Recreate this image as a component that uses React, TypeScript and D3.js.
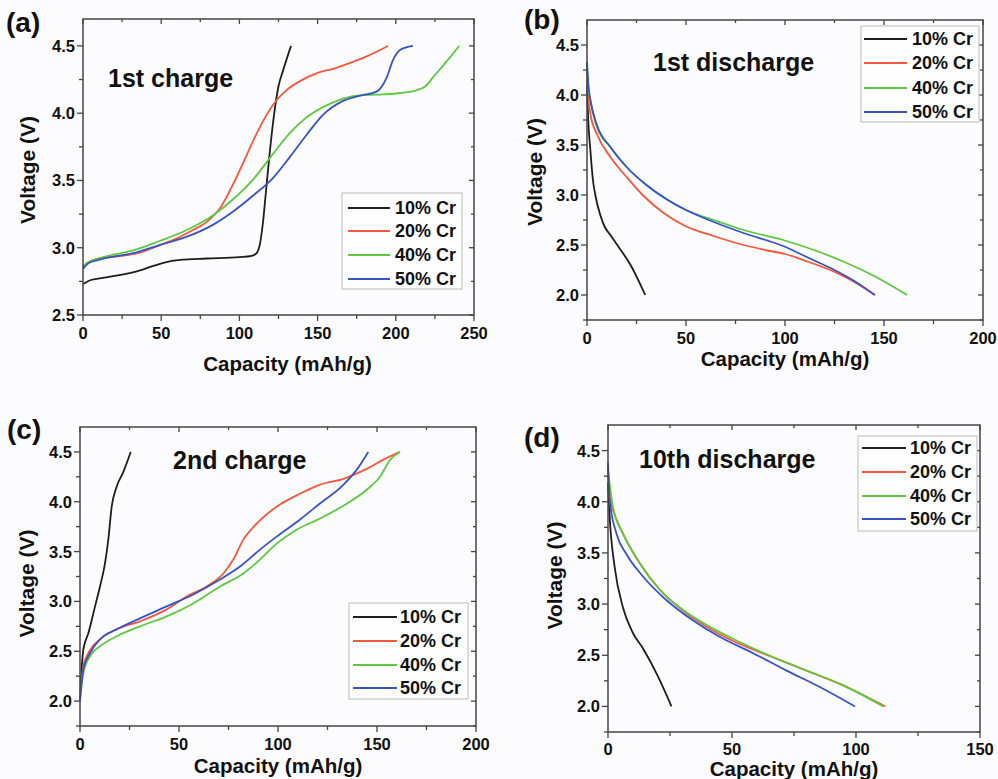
import React from "react";
import * as d3 from "d3";

type Pt = [number, number];

// series names and colours
const seriesNames = ["10% Cr", "20% Cr", "40% Cr", "50% Cr"];
const seriesColors = ["#1e1e1e", "#f4583a", "#5ec93e", "#3852c8"];

// (a) 1st charge: [capacity mAh/g, voltage V]
const charge1_10: Pt[] = [[0, 2.73], [5, 2.76], [15, 2.78], [25, 2.8], [36, 2.83], [45, 2.865], [52, 2.89], [62, 2.91], [79, 2.92], [100, 2.93], [108, 2.94], [111, 2.96], [113, 3.02], [115, 3.18], [117, 3.42], [119, 3.66], [121, 3.88], [123, 4.06], [125, 4.2], [128, 4.32], [133, 4.5]];
const charge1_20: Pt[] = [[0, 2.85], [3, 2.89], [10, 2.92], [25, 2.94], [35, 2.96], [49, 3.02], [60, 3.07], [70, 3.13], [79, 3.19], [88, 3.3], [95, 3.45], [102, 3.62], [109, 3.8], [117, 3.98], [124, 4.1], [130, 4.17], [139, 4.24], [150, 4.3], [160, 4.33], [170, 4.37], [181, 4.42], [195, 4.5]];
const charge1_40: Pt[] = [[0, 2.86], [3, 2.89], [10, 2.92], [20, 2.95], [32, 2.98], [49, 3.05], [66, 3.13], [83, 3.24], [96, 3.36], [109, 3.51], [121, 3.69], [132, 3.85], [143, 3.97], [156, 4.06], [170, 4.12], [181, 4.135], [192, 4.14], [203, 4.15], [213, 4.17], [219, 4.2], [224, 4.27], [230, 4.35], [235, 4.42], [240.6, 4.5]];
const charge1_50: Pt[] = [[0, 2.84], [3, 2.88], [10, 2.91], [32, 2.96], [49, 3.02], [66, 3.08], [83, 3.17], [96, 3.27], [109, 3.39], [121.6, 3.52], [132, 3.67], [143, 3.84], [153.6, 3.99], [166, 4.09], [177, 4.13], [187.7, 4.16], [194, 4.26], [198.4, 4.4], [202.7, 4.47], [211, 4.5]];

// (b) 1st discharge
const discharge1_10: Pt[] = [[0, 4.1], [0.5, 3.8], [1.7, 3.45], [3, 3.15], [4.2, 3.0], [6.7, 2.8], [9, 2.68], [11.8, 2.6], [16, 2.48], [22, 2.3], [29.4, 2.0]];
const discharge1_20: Pt[] = [[0, 4.15], [0.8, 3.95], [1.7, 3.81], [5, 3.61], [11.8, 3.38], [20, 3.18], [28.6, 2.99], [38.7, 2.82], [49.6, 2.69], [63.9, 2.59], [79, 2.5], [90, 2.45], [100, 2.41], [112, 2.33], [124, 2.24], [135, 2.13], [145.4, 2.0]];
const discharge1_40: Pt[] = [[0, 4.25], [0.8, 4.05], [1.7, 3.95], [5, 3.68], [11.8, 3.48], [20, 3.28], [30, 3.1], [40, 2.96], [50, 2.85], [64, 2.75], [79, 2.65], [99, 2.55], [116, 2.44], [130, 2.33], [145, 2.19], [161.7, 2.0]];
const discharge1_50: Pt[] = [[0, 4.33], [0.8, 4.08], [1.7, 3.95], [5, 3.7], [11.8, 3.48], [20, 3.28], [30, 3.1], [40, 2.96], [50, 2.85], [64, 2.73], [79, 2.62], [99, 2.49], [112, 2.37], [124, 2.26], [135, 2.14], [145.4, 2.0]];

// (c) 2nd charge
const charge2_10: Pt[] = [[0.3, 2.15], [1.7, 2.52], [4.2, 2.68], [7.6, 2.95], [10.1, 3.15], [12.6, 3.38], [14.3, 3.62], [16, 3.95], [18.5, 4.15], [21.9, 4.3], [25.6, 4.5]];
const charge2_20: Pt[] = [[0, 2.08], [1.7, 2.35], [4.2, 2.48], [10.1, 2.62], [18.5, 2.72], [30.3, 2.8], [43.8, 2.92], [53.9, 3.05], [64, 3.15], [72.4, 3.28], [77.4, 3.42], [82.5, 3.62], [89.2, 3.78], [99.3, 3.95], [111, 4.08], [121, 4.17], [133, 4.23], [144.8, 4.33], [153, 4.42], [161.6, 4.5]];
const charge2_40: Pt[] = [[0, 2.02], [1.7, 2.28], [5, 2.45], [10.1, 2.55], [18.5, 2.65], [30.3, 2.75], [43.8, 2.85], [57.2, 2.98], [70.7, 3.15], [82.5, 3.28], [90.9, 3.42], [99.3, 3.58], [109.4, 3.72], [121, 3.83], [134.7, 3.98], [144.8, 4.12], [151.5, 4.25], [156.6, 4.42], [161.6, 4.5]];
const charge2_50: Pt[] = [[0, 2.0], [1.7, 2.32], [5, 2.48], [10.1, 2.62], [18.5, 2.72], [30.3, 2.83], [43.8, 2.95], [57.2, 3.07], [70.7, 3.22], [80.8, 3.35], [90.9, 3.52], [99.3, 3.65], [111, 3.82], [121, 3.98], [133, 4.17], [139.7, 4.32], [145.6, 4.5]];

// (d) 10th discharge
const discharge10_10: Pt[] = [[0, 4.18], [0.67, 3.85], [2.7, 3.36], [6, 2.97], [10, 2.72], [14, 2.57], [20, 2.3], [25.6, 2.0]];
const discharge10_20: Pt[] = [[0, 4.11], [2, 3.92], [6, 3.69], [12.8, 3.4], [20.9, 3.14], [31.6, 2.91], [42.4, 2.74], [53.1, 2.61], [66.6, 2.48], [80, 2.35], [93.5, 2.22], [111.7, 2.0]];
const discharge10_40: Pt[] = [[0, 4.31], [2, 3.95], [6, 3.69], [12.8, 3.4], [20.9, 3.14], [31.6, 2.92], [42.4, 2.76], [53.1, 2.63], [66.6, 2.48], [80, 2.35], [93.5, 2.22], [111, 2.0]];
const discharge10_50: Pt[] = [[0, 4.38], [0.67, 4.02], [3.4, 3.69], [7.4, 3.49], [14.1, 3.27], [23.5, 3.04], [34.3, 2.84], [45, 2.68], [58.5, 2.52], [72, 2.35], [85.4, 2.19], [99.6, 2.0]];

const FONT = "'Liberation Sans', Arial, Helvetica, sans-serif";

interface PanelCfg {
  label: string;
  labelPos: [number, number];
  title: string;
  titlePos: [number, number];
  box: { l: number; r: number; t: number; b: number };
  xMax: number;
  yDomain: [number, number];
  yMajor: number[];
  series: Pt[][];
  legend: { x: number; y: number; w: number; h: number; rows: number[]; lx0: number; lx1: number; tx: number };
  xLabelDy: number;
  xTitleDy: number;
  xTitleDx: number;
  yTitleX: number;
  yTitleDy: number;
}

const panels: PanelCfg[] = [
  {
    label: "(a)", labelPos: [6, 32], title: "1st charge", titlePos: [108, 87],
    box: { l: 83, r: 474, t: 19, b: 315 }, xMax: 250, yDomain: [2.5, 4.7],
    yMajor: [2.5, 3.0, 3.5, 4.0, 4.5],
    series: [charge1_10, charge1_20, charge1_40, charge1_50],
    legend: { x: 342, y: 193, w: 120, h: 96, rows: [208, 231, 255, 279], lx0: 348, lx1: 390, tx: 395 },
    xLabelDy: 24, xTitleDy: 56, xTitleDx: 9, yTitleX: 35, yTitleDy: 3,
  },
  {
    label: "(b)", labelPos: [524, 29], title: "1st discharge", titlePos: [653, 71],
    box: { l: 587, r: 983, t: 20, b: 320 }, xMax: 200, yDomain: [1.75, 4.75],
    yMajor: [2.0, 2.5, 3.0, 3.5, 4.0, 4.5],
    series: [discharge1_10, discharge1_20, discharge1_40, discharge1_50],
    legend: { x: 861, y: 26, w: 118, h: 96, rows: [39, 63, 88, 112], lx0: 864, lx1: 907, tx: 912 },
    xLabelDy: 24, xTitleDy: 46, xTitleDx: 0, yTitleX: 542, yTitleDy: 2,
  },
  {
    label: "(c)", labelPos: [7, 439], title: "2nd charge", titlePos: [173, 469],
    box: { l: 80, r: 476, t: 427, b: 726 }, xMax: 200, yDomain: [1.75, 4.75],
    yMajor: [2.0, 2.5, 3.0, 3.5, 4.0, 4.5],
    series: [charge2_10, charge2_20, charge2_40, charge2_50],
    legend: { x: 349, y: 603, w: 119, h: 96, rows: [617, 641, 665, 688], lx0: 353, lx1: 397, tx: 400 },
    xLabelDy: 24, xTitleDy: 47, xTitleDx: 0, yTitleX: 34, yTitleDy: 7,
  },
  {
    label: "(d)", labelPos: [524, 447], title: "10th discharge", titlePos: [639, 468],
    box: { l: 608, r: 980, t: 425, b: 732 }, xMax: 150, yDomain: [1.75, 4.75],
    yMajor: [2.0, 2.5, 3.0, 3.5, 4.0, 4.5],
    series: [discharge10_10, discharge10_20, discharge10_40, discharge10_50],
    legend: { x: 858, y: 436, w: 119, h: 95, rows: [448, 472, 496, 519], lx0: 862, lx1: 906, tx: 910 },
    xLabelDy: 23, xTitleDy: 44, xTitleDx: 0, yTitleX: 562, yTitleDy: -3,
  },
];

const AXIS = "#444";

function Panel({ cfg }: { cfg: PanelCfg }) {
  const { box } = cfg;
  const x = d3.scaleLinear().domain([0, cfg.xMax]).range([box.l, box.r]);
  const y = d3.scaleLinear().domain(cfg.yDomain).range([box.b, box.t]);
  const line = d3
    .line<Pt>()
    .x(d => x(d[0]))
    .y(d => y(d[1]))
    .curve(d3.curveMonotoneX);

  const xMajor = d3.range(0, cfg.xMax + 1, 50);
  const xMinor = d3.range(25, cfg.xMax, 50);
  const yMinor = cfg.yMajor.map(v => v + 0.25).filter(v => v < cfg.yDomain[1]);
  if (cfg.yDomain[0] < cfg.yMajor[0]) yMinor.unshift(cfg.yMajor[0] - 0.25);

  const cx = (box.l + box.r) / 2;
  const cy = (box.t + box.b) / 2;

  return (
    <g>
      <text x={cfg.labelPos[0]} y={cfg.labelPos[1]} fontSize={28} fontWeight="bold" fill="#111">
        {cfg.label}
      </text>

      {/* curves */}
      <g fill="none" strokeWidth={1.8} strokeLinejoin="round">
        {cfg.series.map((s, i) => (
          <path key={i} d={line(s) || ""} stroke={seriesColors[i]} />
        ))}
      </g>

      {/* frame */}
      <rect x={box.l} y={box.t} width={box.r - box.l} height={box.b - box.t} fill="none" stroke={AXIS} strokeWidth={1.5} />

      {/* ticks */}
      <g stroke={AXIS} strokeWidth={1.3}>
        {xMajor.map(v => (
          <g key={"xM" + v}>
            <line x1={x(v)} x2={x(v)} y1={box.b} y2={box.b + 6} />
            <line x1={x(v)} x2={x(v)} y1={box.t} y2={box.t + 5} />
          </g>
        ))}
        {xMinor.map(v => (
          <g key={"xm" + v}>
            <line x1={x(v)} x2={x(v)} y1={box.b} y2={box.b + 4} />
            <line x1={x(v)} x2={x(v)} y1={box.t} y2={box.t + 3} />
          </g>
        ))}
        {cfg.yMajor.map(v => (
          <g key={"yM" + v}>
            <line x1={box.l - 6} x2={box.l} y1={y(v)} y2={y(v)} />
            <line x1={box.r - 5} x2={box.r} y1={y(v)} y2={y(v)} />
          </g>
        ))}
        {yMinor.map(v => (
          <g key={"ym" + v}>
            <line x1={box.l - 4} x2={box.l} y1={y(v)} y2={y(v)} />
            <line x1={box.r - 3} x2={box.r} y1={y(v)} y2={y(v)} />
          </g>
        ))}
      </g>

      {/* tick labels */}
      <g fontSize={16.5} fontWeight="bold" fill="#111">
        {xMajor.map(v => (
          <text key={"xl" + v} x={x(v)} y={box.b + cfg.xLabelDy} textAnchor="middle">
            {v}
          </text>
        ))}
        {cfg.yMajor.map(v => (
          <text key={"yl" + v} x={box.l - 8} y={y(v)} dy="0.36em" textAnchor="end">
            {v.toFixed(1)}
          </text>
        ))}
      </g>

      {/* axis titles */}
      <text x={cx + cfg.xTitleDx} y={box.b + cfg.xTitleDy} textAnchor="middle" fontSize={20.5} fontWeight="bold" fill="#111">
        Capacity (mAh/g)
      </text>
      <text
        transform={`translate(${cfg.yTitleX},${cy + cfg.yTitleDy}) rotate(-90)`}
        textAnchor="middle"
        fontSize={21}
        fontWeight="bold"
        fill="#111"
      >
        Voltage (V)
      </text>

      {/* panel title */}
      <text x={cfg.titlePos[0]} y={cfg.titlePos[1]} fontSize={25} fontWeight="bold" fill="#111">
        {cfg.title}
      </text>

      {/* legend */}
      <rect x={cfg.legend.x} y={cfg.legend.y} width={cfg.legend.w} height={cfg.legend.h} fill="#fdfdfe" stroke="#bbb" strokeWidth={1} />
      {seriesNames.map((n, i) => (
        <g key={n}>
          <line x1={cfg.legend.lx0} x2={cfg.legend.lx1} y1={cfg.legend.rows[i]} y2={cfg.legend.rows[i]} stroke={seriesColors[i]} strokeWidth={2} />
          <text x={cfg.legend.tx} y={cfg.legend.rows[i]} dy="0.36em" fontSize={18} fontWeight="bold" fill="#111">
            {n}
          </text>
        </g>
      ))}
    </g>
  );
}

export default function App() {
  return (
    <svg
      width={998}
      height={779}
      style={{ position: "absolute", left: 0, top: 0, fontFamily: FONT }}
    >
      <rect width={998} height={779} fill="#fcfcfe" />
      {panels.map(p => (
        <Panel key={p.label} cfg={p} />
      ))}
    </svg>
  );
}
